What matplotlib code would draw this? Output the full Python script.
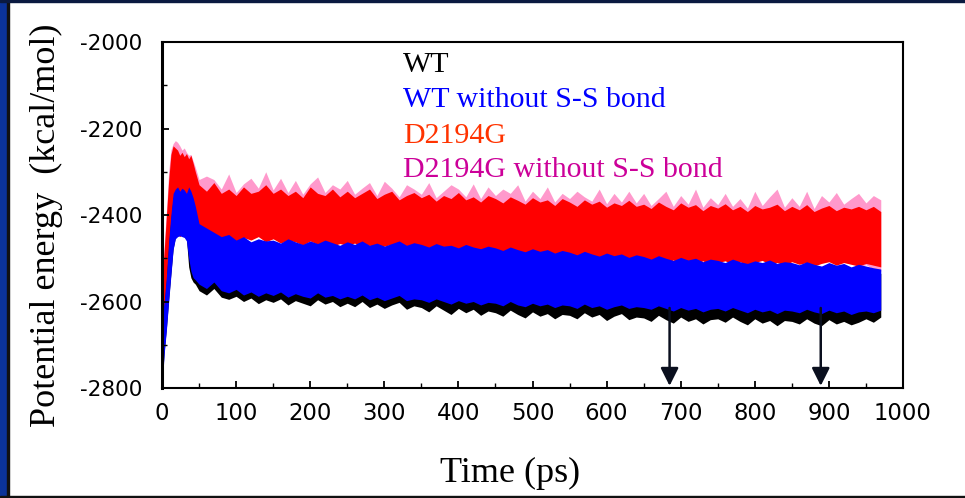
import numpy as np
import matplotlib.pyplot as plt
from matplotlib.patches import Rectangle

# potential energy traces, drawn as min/max envelopes (kcal/mol)
t_early = [0, 3, 6, 9, 12, 15, 18, 21, 24, 27, 30, 33, 36, 39, 42, 45]
t_late = list(range(50, 971, 10))
time = t_early + t_late

# D2194G without S-S bond (pink)
pink_hi = [-2560, -2470, -2390, -2300, -2250, -2235, -2228, -2232, -2240, -2250, -2245, -2255, -2262, -2260, -2275, -2290,
           -2318, -2310, -2318, -2340, -2305, -2348, -2328, -2315, -2338, -2300,
           -2342, -2315, -2348, -2320, -2352, -2328, -2312, -2348, -2330, -2340,
           -2320, -2352, -2338, -2325, -2355, -2322, -2338, -2358, -2330, -2340,
           -2352, -2325, -2360, -2345, -2330, -2340, -2358, -2328, -2362, -2335,
           -2355, -2340, -2350, -2330, -2368, -2345, -2362, -2335, -2370, -2350,
           -2362, -2345, -2358, -2368, -2340, -2374, -2350, -2370, -2345, -2372,
           -2350, -2378, -2362, -2345, -2380, -2355, -2375, -2340, -2382, -2360,
           -2376, -2350, -2380, -2362, -2384, -2345, -2378, -2358, -2340, -2382,
           -2360, -2380, -2345, -2385, -2355, -2370, -2348, -2375, -2362, -2350,
           -2372, -2355, -2365]
pink_lo = [-2700, -2640, -2590, -2540, -2480, -2450, -2440, -2440, -2445, -2440, -2445, -2450, -2455, -2450, -2440, -2430,
           -2430, -2440, -2436, -2445, -2440, -2450, -2444, -2448, -2442, -2452,
           -2446, -2455, -2450, -2452, -2460, -2452, -2458, -2455, -2462, -2456,
           -2460, -2456, -2465, -2460, -2468, -2462, -2460, -2470, -2465, -2472,
           -2468, -2475, -2470, -2478, -2472, -2480, -2476, -2482, -2478, -2485,
           -2480, -2486, -2482, -2488, -2485, -2490, -2484, -2492, -2488, -2490,
           -2494, -2490, -2496, -2492, -2498, -2494, -2500, -2496, -2492, -2498,
           -2496, -2502, -2498, -2500, -2496, -2504, -2500, -2502, -2498, -2505,
           -2500, -2498, -2504, -2500, -2506, -2502, -2498, -2504, -2500, -2506,
           -2500, -2506, -2502, -2508, -2504, -2500, -2506, -2502, -2510, -2520,
           -2515, -2525, -2530]

# D2194G (red)
red_hi = [-2560, -2480, -2400, -2320, -2260, -2240, -2245, -2250, -2262, -2255, -2265, -2258, -2270, -2262, -2280, -2300,
          -2330, -2345, -2325, -2350, -2340, -2355, -2335, -2350, -2345, -2330,
          -2350, -2340, -2355, -2345, -2360, -2335, -2350, -2355, -2340, -2358,
          -2345, -2360, -2350, -2340, -2362, -2352, -2345, -2365, -2355, -2348,
          -2360, -2352, -2368, -2355, -2362, -2348, -2365, -2358, -2370, -2355,
          -2362, -2372, -2358, -2366, -2375, -2360, -2370, -2365, -2378, -2362,
          -2370, -2380, -2365, -2375, -2368, -2382, -2372, -2378, -2366, -2380,
          -2375, -2385, -2370, -2380, -2388, -2372, -2382, -2376, -2390, -2378,
          -2384, -2374, -2388, -2380, -2392, -2378, -2386, -2382, -2375, -2390,
          -2380, -2388, -2376, -2392, -2384, -2378, -2390, -2382, -2386, -2380,
          -2388, -2380, -2392]
red_lo = [-2700, -2645, -2595, -2545, -2485, -2455, -2445, -2445, -2450, -2445, -2450, -2455, -2460, -2455, -2448, -2440,
          -2440, -2450, -2445, -2455, -2448, -2460, -2452, -2458, -2450, -2462,
          -2455, -2465, -2458, -2462, -2470, -2460, -2468, -2463, -2472, -2466,
          -2470, -2465, -2475, -2470, -2478, -2472, -2468, -2480, -2475, -2482,
          -2476, -2485, -2478, -2488, -2482, -2490, -2484, -2492, -2486, -2495,
          -2488, -2496, -2490, -2498, -2494, -2500, -2492, -2502, -2497, -2500,
          -2504, -2498, -2506, -2500, -2508, -2502, -2510, -2505, -2500, -2508,
          -2505, -2512, -2506, -2510, -2504, -2514, -2508, -2512, -2506, -2515,
          -2510, -2506, -2514, -2508, -2516, -2510, -2505, -2514, -2510, -2516,
          -2508, -2514, -2510, -2518, -2512, -2508, -2516, -2510, -2514, -2518,
          -2512, -2516, -2520]

# WT (black)
black_hi = [-2650, -2610, -2550, -2470, -2410, -2360, -2350, -2345, -2355, -2348, -2352, -2360, -2350, -2355, -2370, -2390,
            -2430, -2440, -2450, -2460, -2455, -2468, -2460, -2472, -2465, -2470,
            -2468, -2475, -2465, -2472, -2478, -2470, -2476, -2468, -2474, -2480,
            -2472, -2478, -2470, -2480, -2475, -2482, -2476, -2470, -2480, -2474,
            -2478, -2484, -2476, -2482, -2480, -2486, -2478, -2484, -2488, -2482,
            -2486, -2492, -2484, -2490, -2495, -2488, -2494, -2490, -2498, -2492,
            -2496, -2502, -2494, -2500, -2505, -2498, -2504, -2500, -2508, -2502,
            -2506, -2512, -2504, -2510, -2515, -2508, -2514, -2510, -2518, -2512,
            -2515, -2520, -2512, -2518, -2522, -2516, -2520, -2514, -2522, -2518,
            -2520, -2525, -2518, -2524, -2528, -2520, -2526, -2522, -2530, -2524,
            -2528, -2532, -2535]
black_lo = [-2790, -2715, -2660, -2595, -2535, -2478, -2452, -2445, -2443, -2445, -2448, -2455, -2520, -2545, -2555, -2560,
            -2575, -2585, -2570, -2590, -2595, -2588, -2600, -2592, -2605, -2596,
            -2602, -2594, -2608, -2598, -2604, -2610, -2596, -2606, -2600, -2612,
            -2604, -2612, -2600, -2614, -2606, -2616, -2608, -2602, -2618, -2610,
            -2614, -2624, -2610, -2620, -2630, -2616, -2626, -2618, -2632, -2622,
            -2626, -2634, -2620, -2630, -2638, -2624, -2634, -2628, -2640, -2630,
            -2632, -2640, -2626, -2636, -2630, -2644, -2634, -2628, -2642, -2636,
            -2638, -2646, -2632, -2642, -2650, -2636, -2646, -2640, -2652, -2642,
            -2640, -2648, -2636, -2646, -2654, -2640, -2650, -2644, -2656, -2644,
            -2646, -2652, -2640, -2650, -2656, -2642, -2652, -2646, -2654, -2648,
            -2640, -2648, -2636]

# WT without S-S bond (blue)
blue_hi = [-2640, -2600, -2540, -2460, -2400, -2350, -2340, -2335, -2345, -2338, -2342, -2350, -2335, -2345, -2360, -2380,
           -2420, -2430, -2440, -2450, -2445, -2458, -2450, -2462, -2455, -2460,
           -2458, -2465, -2455, -2462, -2468, -2460, -2466, -2458, -2464, -2470,
           -2462, -2468, -2460, -2470, -2465, -2472, -2466, -2460, -2470, -2464,
           -2468, -2474, -2466, -2472, -2470, -2476, -2468, -2474, -2478, -2472,
           -2476, -2482, -2474, -2480, -2485, -2478, -2484, -2480, -2488, -2482,
           -2486, -2492, -2484, -2490, -2495, -2488, -2494, -2490, -2498, -2492,
           -2496, -2502, -2494, -2500, -2505, -2498, -2504, -2500, -2508, -2502,
           -2505, -2510, -2502, -2508, -2512, -2506, -2510, -2504, -2512, -2508,
           -2510, -2515, -2508, -2514, -2518, -2510, -2516, -2512, -2520, -2514,
           -2518, -2522, -2525]
blue_lo = [-2800, -2720, -2665, -2600, -2540, -2480, -2455, -2450, -2448, -2450, -2452, -2460, -2500, -2530, -2545, -2550,
           -2560, -2570, -2555, -2575, -2580, -2572, -2585, -2578, -2588, -2580,
           -2586, -2578, -2590, -2582, -2588, -2592, -2580, -2590, -2586, -2594,
           -2588, -2594, -2585, -2596, -2590, -2598, -2592, -2586, -2598, -2594,
           -2596, -2602, -2594, -2600, -2606, -2598, -2604, -2600, -2608, -2602,
           -2604, -2610, -2600, -2608, -2612, -2604, -2610, -2606, -2614, -2608,
           -2610, -2616, -2606, -2614, -2610, -2618, -2612, -2608, -2616, -2612,
           -2614, -2618, -2610, -2616, -2622, -2614, -2620, -2616, -2624, -2618,
           -2616, -2622, -2614, -2620, -2626, -2618, -2624, -2620, -2628, -2620,
           -2622, -2626, -2618, -2624, -2628, -2620, -2626, -2622, -2630, -2624,
           -2622, -2626, -2620]

labels = ['WT', 'WT without S-S bond', 'D2194G', 'D2194G without S-S bond']
label_colors = ['black', '#0000ff', '#ff3300', '#cc0099']

arrow_t = [685, 889]
arrow_from = -2615
arrow_to = -2795

serif = ['Liberation Serif', 'DejaVu Serif']
plt.rcParams['font.family'] = ['DejaVu Sans']
plt.rcParams['axes.unicode_minus'] = False

fig = plt.figure(figsize=(9.65, 4.98), dpi=100)
ax = fig.add_axes([162 / 965, 1 - 388 / 498, (903 - 162) / 965, (388 - 42) / 498])

t = np.array(time)
bands = [(pink_hi, pink_lo, '#ff99cc'), (red_hi, red_lo, '#ff0000'),
         (black_hi, black_lo, '#000000'), (blue_hi, blue_lo, '#0000ff')]
for hi, lo, c in bands:
    ax.fill_between(t, lo, hi, color=c, linewidth=0)

for x in arrow_t:
    ax.annotate('', xy=(x, arrow_to), xytext=(x, arrow_from),
                arrowprops=dict(arrowstyle='-|>,head_length=0.6,head_width=0.3',
                                mutation_scale=18, lw=1.8, color='#0a0f1e',
                                shrinkA=0, shrinkB=0))

ax.set_xlim(0, 1000)
ax.set_ylim(-2800, -2000)
ax.set_xticks(np.arange(0, 1001, 100))
ax.set_xticks(np.arange(0, 1001, 50), minor=True)
ax.set_yticks(np.arange(-2800, -1999, 200))
ax.set_yticks(np.arange(-2800, -1999, 100), minor=True)
ax.tick_params(which='major', direction='in', length=5, width=1.3)
ax.tick_params(which='minor', direction='in', length=3.5, width=1.0)
ax.tick_params(axis='x', labelsize=16.4, pad=10)
ax.tick_params(axis='y', labelsize=15.5, pad=14)
for s in ax.spines.values():
    s.set_linewidth(1.5)
ax.spines['left'].set_linewidth(2.2)

fig.text(510 / 965, 1 - 473 / 498, 'Time (ps)', family=serif, fontsize=26,
         ha='center', va='center')
fig.text(46 / 965, 1 - 225 / 498, 'Potential energy  (kcal/mol)', family=serif,
         fontsize=26, rotation=90, ha='center', va='center')

baselines = [72, 107, 143, 177]
for lab, c, b in zip(labels, label_colors, baselines):
    fig.text(403 / 965, 1 - b / 498, lab, family=serif, fontsize=21.5,
             color=c, ha='left', va='baseline')

# slide frame
fig.patches.append(Rectangle((0, 0), 7 / 965, 1, transform=fig.transFigure,
                             color='#0b3399', zorder=10))
fig.patches.append(Rectangle((7 / 965, 0), 2 / 965, 1, transform=fig.transFigure,
                             color='#111111', zorder=10))
fig.patches.append(Rectangle((0, 1 - 2.5 / 498), 1, 2.5 / 498, transform=fig.transFigure,
                             color='#0a1a40', zorder=10))
fig.patches.append(Rectangle((0, 0), 1, 2.5 / 498, transform=fig.transFigure,
                             color='#111111', zorder=10))

fig.savefig('out.png', dpi=100)
